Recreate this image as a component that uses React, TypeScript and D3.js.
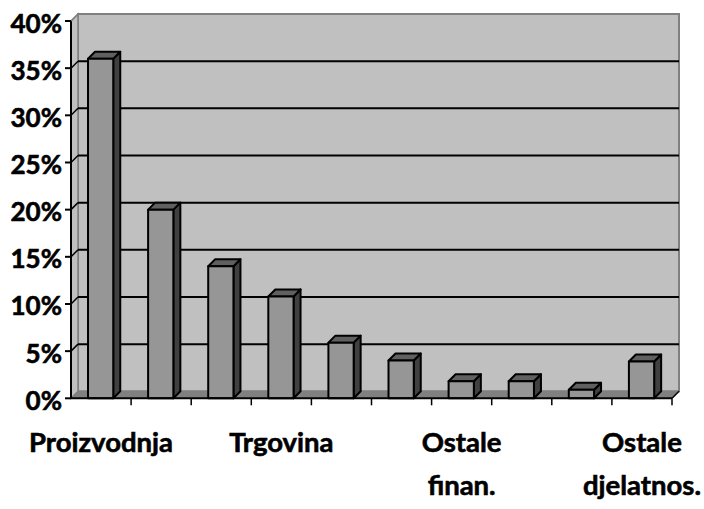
import React from "react";
import * as d3 from "d3";

const categories = ["Proizvodnja", "", "", "Trgovina", "", "", "Ostale finan.", "", "", "Ostale djelatnos."];
const values = [36, 20, 14, 10.8, 5.9, 4, 1.8, 1.8, 0.9, 3.9];
const yTicks = [0, 5, 10, 15, 20, 25, 30, 35, 40];

const W = 704;
const H = 509;
const DX = 7;
const DY = -7;
const FONT = "Lato, 'Open Sans', sans-serif";

export default function App() {
  const x = d3.scaleBand<number>().domain(categories.map((_, i) => i)).range([71, 672]).padding(0);
  const y = d3.scaleLinear().domain([0, 40]).range([398.3, 21]);
  const x0 = x.range()[0];
  const x1 = x.range()[1];
  const yb = y(0);
  const yt = y(40);
  const bw = x.bandwidth();

  const pts = (arr: number[][]) => arr.map((p) => p.join(",")).join(" ");

  return (
    <svg width={W} height={H} style={{ position: "absolute", left: 0, top: 0, background: "#fff" }}>
      {/* back wall */}
      <rect x={x0 + DX} y={yt + DY} width={x1 - x0} height={yb - yt} fill="#c0c0c0" stroke="#808080" strokeWidth={2} />
      {/* side wall */}
      <polygon
        points={pts([[x0, yb], [x0, yt], [x0 + DX, yt + DY], [x0 + DX, yb + DY]])}
        fill="#c0c0c0"
        stroke="#808080"
        strokeWidth={1.5}
      />
      {/* floor */}
      <polygon
        points={pts([[x0, yb], [x1, yb], [x1 + DX, yb + DY], [x0 + DX, yb + DY]])}
        fill="#808080"
        stroke="#808080"
        strokeWidth={1}
      />
      {/* gridlines */}
      {yTicks.filter((t) => t > 0 && t < 40).map((t) => (
        <g key={t}>
          <line x1={x0 + DX} x2={x1 + DX} y1={y(t) + DY} y2={y(t) + DY} stroke="#000" strokeWidth={2} />
          <line x1={x0} x2={x0 + DX} y1={y(t)} y2={y(t) + DY} stroke="#000" strokeWidth={1.5} />
        </g>
      ))}
      {/* bars */}
      {values.map((v, i) => {
        const bx = (x(i) as number) + bw * 0.283;
        const w = bw * 0.42;
        const top = y(v);
        return (
          <g key={i} stroke="#000" strokeWidth={2} strokeLinejoin="round">
            <polygon points={pts([[bx + w, yb], [bx + w, top], [bx + w + DX, top + DY], [bx + w + DX, yb + DY]])} fill="#404040" />
            <polygon points={pts([[bx, top], [bx + w, top], [bx + w + DX, top + DY], [bx + DX, top + DY]])} fill="#606060" />
            <rect x={bx} y={top} width={w} height={yb - top} fill="#969696" />
          </g>
        );
      })}
      {/* axes */}
      <line x1={x0} x2={x0} y1={yt} y2={yb} stroke="#000" strokeWidth={2} />
      <line x1={x0} x2={x1} y1={yb} y2={yb} stroke="#000" strokeWidth={2} />
      <line x1={x1} x2={x1 + DX} y1={yb} y2={yb + DY} stroke="#000" strokeWidth={1.5} />
      <line x1={x0} x2={x0 + DX} y1={yt} y2={yt + DY} stroke="#808080" strokeWidth={1.5} />
      {yTicks.map((t) => (
        <g key={t}>
          <line x1={x0 - 6} x2={x0} y1={y(t)} y2={y(t)} stroke="#000" strokeWidth={2} />
          <text x={62} y={y(t) + 11.5} textAnchor="end" fontFamily={FONT} fontWeight="bold" fontSize={26} fill="#000" stroke="#000" strokeWidth={0.6}>
            {t + "%"}
          </text>
        </g>
      ))}
      {categories.map((_, i) => (
        <line key={i} x1={(x(i) as number) + bw} x2={(x(i) as number) + bw} y1={yb} y2={yb + 7} stroke="#000" strokeWidth={1.5} />
      ))}
      {categories.map((c, i) =>
        c ? (
          <text key={i} x={(x(i) as number) + bw / 2} textAnchor="middle" fontFamily={FONT} fontWeight="bold" fontSize={27.5} fill="#000" stroke="#000" strokeWidth={0.6}>
            {c.split(" ").map((ln, k) => (
              <tspan key={k} x={(x(i) as number) + bw / 2} y={452 + k * 43}>
                {ln}
              </tspan>
            ))}
          </text>
        ) : null
      )}
    </svg>
  );
}
